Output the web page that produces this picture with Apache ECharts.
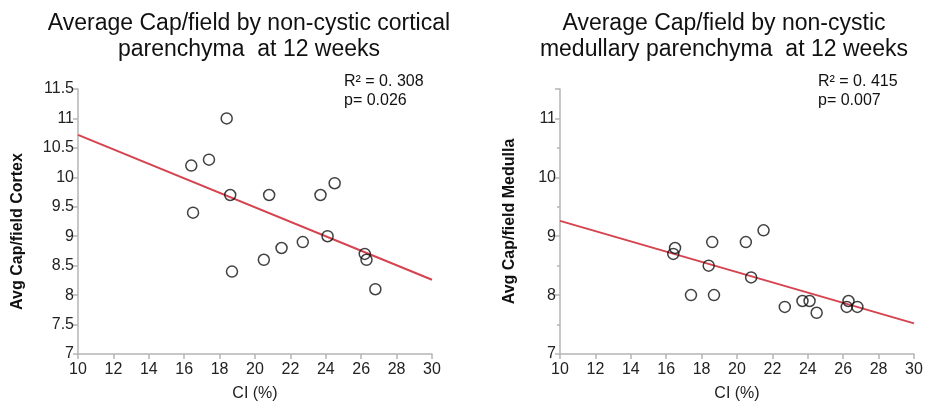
<!DOCTYPE html>
<html>
<head>
<meta charset="utf-8">
<script src="https://cdn.jsdelivr.net/npm/echarts@6/dist/echarts.min.js"></script>
<style>
html,body{margin:0;padding:0;background:#fff;}
#chart{width:926px;height:407px;}
</style>
</head>
<body>
<div id="chart"></div>
<script>
// Data
var ciValues = [16.4, 16.5, 17.4, 18.4, 18.6, 18.7, 20.5, 20.8, 21.5, 22.7, 23.7, 24.1, 24.5, 26.2, 26.3, 26.8];
var cortexValues = [10.2, 9.4, 10.3, 11.0, 9.7, 8.4, 8.6, 9.7, 8.8, 8.9, 9.7, 9.0, 9.9, 8.7, 8.6, 8.1];
var medullaCI = [16.4, 16.5, 17.4, 18.4, 18.6, 18.7, 20.5, 20.8, 21.5, 22.7, 23.7, 24.1, 24.5, 26.2, 26.3, 26.8];
var medullaValues = [8.7, 8.8, 8.0, 8.5, 8.9, 8.0, 8.9, 8.3, 9.1, 7.8, 7.9, 7.9, 7.7, 7.8, 7.9, 7.8];
var cortexFitX = [10, 30];
var cortexFitY = [10.72, 8.26];
var medullaFitX = [10, 30];
var medullaFitY = [9.26, 7.52];
var titles = ["Average Cap/field by non-cystic cortical\nparenchyma  at 12 weeks", "Average Cap/field by non-cystic\nmedullary parenchyma  at 12 weeks"];
var statsText = ["R\u00B2 = 0. 308\np= 0.026", "R\u00B2 = 0. 415\np= 0.007"];
var yNames = ["Avg Cap/field Cortex", "Avg Cap/field Medulla"];
var xName = "CI (%)";

function pairs(xs, ys){ return xs.map(function(x,i){ return [x, ys[i]]; }); }

var FONT = '"Liberation Sans", Arial, sans-serif';
var axisColor = '#b5b5b5';
var labelColor = '#222';

function xAxis(idx){
  return {
    gridIndex: idx, type: 'value', min: 10, max: 30, interval: 2,
    name: xName, nameLocation: 'middle', nameGap: 32,
    nameTextStyle: {fontFamily: FONT, fontSize: 16, color: labelColor},
    axisLine: {lineStyle: {color: axisColor, width: 1.5}},
    axisTick: {show: true, length: 5, lineStyle: {color: axisColor, width: 1.5}},
    axisLabel: {fontFamily: FONT, fontSize: 16, color: labelColor, margin: 8},
    splitLine: {show: false}
  };
}

var option = {
  backgroundColor: '#fff',
  animation: false,
  title: [
    {text: titles[0], left: 244, top: 6, textAlign: 'center',
     textStyle: {fontFamily: FONT, fontSize: 23, fontWeight: 'normal', color: '#111', lineHeight: 26}},
    {text: titles[1], left: 719, top: 6, textAlign: 'center',
     textStyle: {fontFamily: FONT, fontSize: 23, fontWeight: 'normal', color: '#111', lineHeight: 26}},
    {text: statsText[0], left: 339, top: 67,
     textStyle: {fontFamily: FONT, fontSize: 16, fontWeight: 'normal', color: '#111', lineHeight: 19}},
    {text: statsText[1], left: 813, top: 67,
     textStyle: {fontFamily: FONT, fontSize: 16, fontWeight: 'normal', color: '#111', lineHeight: 19}}
  ],
  grid: [
    {left: 78, right: 494, top: 89, bottom: 51},
    {left: 560, right: 12, top: 89, bottom: 51}
  ],
  xAxis: [xAxis(0), xAxis(1)],
  yAxis: [
    {gridIndex: 0, type: 'value', min: 7, max: 11.5, interval: 0.5,
     name: yNames[0], nameLocation: 'middle', nameGap: 52,
     nameTextStyle: {fontFamily: FONT, fontSize: 16, fontWeight: 'bold', color: '#111', padding: [0, 20, 0, 0]},
     axisLine: {show: true, lineStyle: {color: axisColor, width: 1.5}},
     axisTick: {show: true, length: 5, lineStyle: {color: axisColor, width: 1.5}},
     axisLabel: {fontFamily: FONT, fontSize: 16, color: labelColor, margin: 4},
     splitLine: {show: false}},
    {gridIndex: 1, type: 'value', min: 7, max: 11.5, interval: 1,
     name: yNames[1], nameLocation: 'middle', nameGap: 42,
     nameTextStyle: {fontFamily: FONT, fontSize: 16, fontWeight: 'bold', color: '#111'},
     axisLine: {show: true, lineStyle: {color: axisColor, width: 1.5}},
     axisTick: {show: true, length: 5, lineStyle: {color: axisColor, width: 1.5}},
     minorTick: {show: true, splitNumber: 2, length: 3, lineStyle: {color: axisColor, width: 1.5}},
     axisLabel: {fontFamily: FONT, fontSize: 16, color: labelColor, margin: 4,
       formatter: function(v){ return Math.abs(v - Math.round(v)) < 1e-6 ? String(v) : ''; }},
     splitLine: {show: false}}
  ],
  series: [
    {type: 'line', xAxisIndex: 0, yAxisIndex: 0, data: pairs(cortexFitX, cortexFitY),
     symbol: 'none', lineStyle: {color: '#d6434f', width: 2}, z: 2},
    {type: 'scatter', xAxisIndex: 0, yAxisIndex: 0, data: pairs(ciValues, cortexValues),
     symbol: 'circle', symbolSize: 11,
     itemStyle: {color: 'rgba(255,255,255,0)', borderColor: '#111', borderWidth: 1.5}, z: 3},
    {type: 'line', xAxisIndex: 1, yAxisIndex: 1, data: pairs(medullaFitX, medullaFitY),
     symbol: 'none', lineStyle: {color: '#d6434f', width: 2}, z: 2},
    {type: 'scatter', xAxisIndex: 1, yAxisIndex: 1, data: pairs(medullaCI, medullaValues),
     symbol: 'circle', symbolSize: 11,
     itemStyle: {color: 'rgba(255,255,255,0)', borderColor: '#111', borderWidth: 1.5}, z: 3}
  ]
};

var chart = echarts.init(document.getElementById('chart'), null, {renderer: 'canvas'});
chart.setOption(option);
</script>
</body>
</html>
